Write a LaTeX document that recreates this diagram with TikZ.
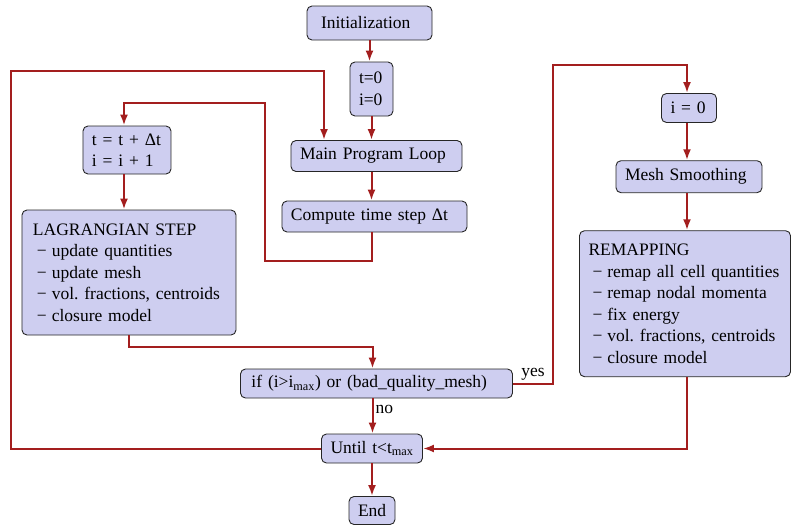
\documentclass[tikz,border=0pt]{standalone}
\usepackage{fontspec}
\setmainfont{Liberation Serif}
\usepackage{tikz}
\usetikzlibrary{arrows.meta, calc, positioning}
\definecolor{flowfill}{RGB}{206,206,240}
\definecolor{flowred}{RGB}{163,30,30}
\tikzset{
    flownode/.style = {draw=black!85, line width=0.9pt, fill=flowfill, rectangle, rounded corners=5pt,
      inner xsep=9pt, inner ysep=3pt, minimum height=30pt, align=left, node distance=0em,
      font=\fontsize{17.5}{21.5}\selectfont},
    textnode/.style = {draw=none, fill=none, rectangle, inner sep=2pt, text=black,
      node distance=0em, font=\fontsize{17.5}{21.5}\selectfont},
    connect/.style = {flowred, line width=2pt, -{Latex[length=11pt,width=8pt]}}
}
\newcommand{\dashitem}{\hspace*{4pt}−\hspace{5pt}}

\begin{document}
\frenchspacing
\begin{tikzpicture}
\useasboundingbox (-369.5pt,23pt) rectangle (422.5pt,-502pt);

\node [flownode, name=Init, inner xsep=14pt, text width=97pt, minimum height=34pt] {Initialization};
\node [flownode, name=Start, below of=Init, xshift=2pt, yshift=-66pt, text width=25pt, minimum height=54pt] {t=0\\i=0};
\node [flownode, name=Loop, below of=Start, xshift=5pt, yshift=-67pt, text width=153pt, minimum height=31pt] {Main Program Loop};
\node [flownode, name=Step, below of=Loop, xshift=-2pt, yshift=-60.5pt, text width=167pt, minimum height=31pt] {Compute time step Δt};
\node [flownode, name=Incr, left of=Loop, xshift=-249.5pt, yshift=6pt, text width=70pt, minimum height=48pt] {t = t + Δt\\i = i + 1};
\node [flownode, name=Lag, below of=Incr, xshift=2pt, yshift=-122.5pt, inner xsep=11pt, text width=192pt, minimum height=125pt] {LAGRANGIAN STEP\\
\dashitem update quantities\\
\dashitem update mesh\\
\dashitem vol. fractions, centroids\\
\dashitem closure model};

\node [flownode, name=Check, below of=Step, xshift=2pt, yshift=-167pt, inner xsep=11pt, text width=250pt, minimum height=29pt] {if (i>i\textsubscript{max}) or (bad\_quality\_mesh)};
\node [flownode, name=Until, below of=Check, xshift=-4.5pt, yshift=-65pt, text width=83pt, minimum height=29pt] {Until t<t\textsubscript{max}};
\node [flownode, name=End, below of=Until, yshift=-62pt, text width=28pt, minimum height=28pt] {End};

\node [flownode, name=Reset, right of=Start, xshift=317.5pt, yshift=-19pt, text width=37pt, minimum height=29pt] {i = 0};
\node [flownode, name=Smooth, below of=Reset, yshift=-68.7pt, text width=128pt, minimum height=32pt] {Mesh Smoothing};
\node [flownode, name=Remap, below of=Smooth, xshift=-4pt, yshift=-127pt, text width=193pt, minimum height=146pt] {REMAPPING\\
\dashitem remap all cell quantities\\
\dashitem remap nodal momenta\\
\dashitem fix energy\\
\dashitem vol. fractions, centroids\\
\dashitem closure model};

\draw [connect] (Init.south) -- (Init.south |- Start.north);
\draw [connect] (Start.south) -- (Start.south |- Loop.north);
\draw [connect] (Start.south |- Loop.south) -- (Start.south |- Step.north);
\draw [connect] (Start.south |- Step.south) -- ++(0,-28.7pt) -- ++(-106.5pt,0) -- ++(0,158.4pt) -| ([xshift=-3pt]Incr.north);
\draw [connect] ([xshift=-3pt]Incr.south) -- ([xshift=-3pt]Incr.south |- Lag.north);
\draw [connect] (Lag.south) -- ++(0,-11.7pt) -| ([xshift=-4pt]Check.north);

\draw [connect] ([xshift=-4pt]Check.south) -- node[textnode, right, pos=0.3] {no} ([xshift=-4pt]Check.south |- Until.north);
\draw [connect] (Check.east) -- node[textnode, above] {yes} ++(40pt,0) -- ++(0,319pt) -| ([xshift=-2pt]Reset.north);
\draw [connect] (Until.south) -- (Until.south |- End.north);
\draw [connect] (Until.west) -- ++(-310pt,0) -- ++(0,377.7pt) -| ([xshift=-52.5pt]Loop.north);

\draw [connect] ([xshift=-2pt]Reset.south) -- ([xshift=-2pt]Reset.south |- Smooth.north);
\draw [connect] ([xshift=-2pt]Smooth.south) -- ([xshift=-2pt]Smooth.south |- Remap.north);
\draw [connect] ([xshift=1.7pt]Remap.south) |- (Until.east);

\end{tikzpicture}
\end{document}
